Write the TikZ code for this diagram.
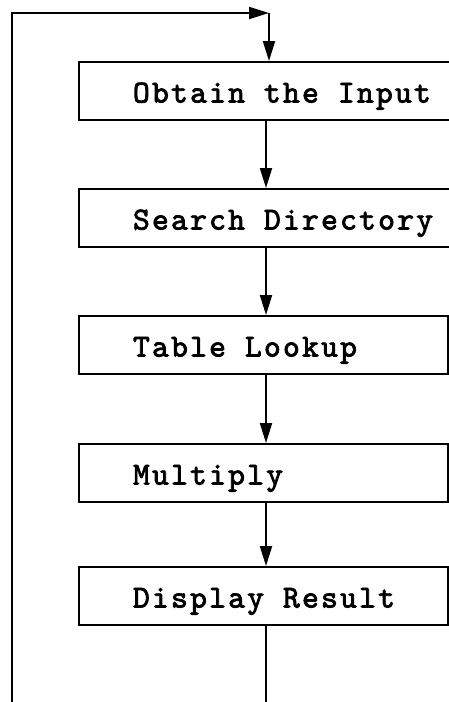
\documentclass[tikz,border=0pt]{standalone}
\usepackage{fontspec}
\newfontfamily\typefont{lmmono10-regular}[Extension=.otf,LetterSpace=7,FakeBold=2.5]
\usetikzlibrary{arrows.meta}
\begin{document}
\begin{tikzpicture}[
    x=1pt,y=-1pt,
    line width=2pt,
    stepbox/.style={draw,anchor=west,minimum height=58pt,inner xsep=4pt,
        text width=361pt,text height=25pt,text depth=2pt,align=left,
        execute at begin node={\spaceskip=19pt\relax\hspace*{50pt}},
        font=\typefont\fontsize{32}{36}\selectfont},
    widebox/.style={stepbox,text width=375pt},
    >={Triangle[length=20pt,width=12pt]}
]
\useasboundingbox (0,0) rectangle (449,702);

\node[widebox] (obtain) at (78,91) {Obtain the Input};
\node[widebox] (search) at (78,218) {Search Directory};
\node[stepbox] (lookup) at (78,345) {Table Lookup};
\node[stepbox] (mult) at (78,473) {Multiply};
\node[stepbox] (display) at (78,596) {Display Result};

\coordinate (mid) at (266,0);
\coordinate (loopbot) at (12,720);
\coordinate (looptop) at (12,13);
\coordinate (join) at (269,13);

\draw[->] (obtain.south -| mid) -- (search.north -| mid);
\draw[->] (search.south -| mid) -- (lookup.north -| mid);
\draw[->] (lookup.south -| mid) -- (mult.north -| mid);
\draw[->] (mult.south -| mid) -- (display.north -| mid);

% return path
\draw (display.south -| mid) -- (loopbot -| mid);
\draw[->] (loopbot) -- (looptop) -- (join);
\draw[->] (join) -- (obtain.north -| join);
\end{tikzpicture}
\end{document}
